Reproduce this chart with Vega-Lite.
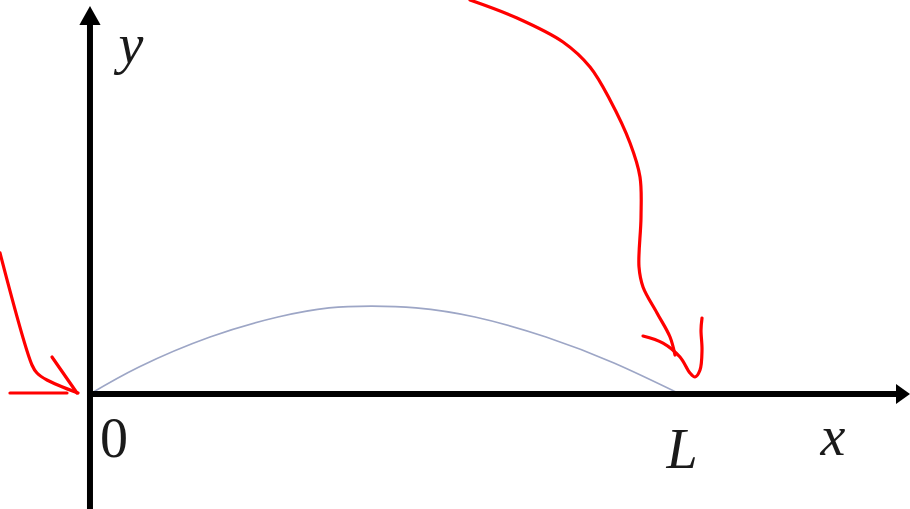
{
  "$schema": "https://vega.github.io/schema/vega-lite/v6.json",
  "width": 910,
  "height": 509,
  "autosize": {"type": "none"},
  "padding": 0,
  "background": "white",
  "config": {"view": {"stroke": null}},
  "datasets": {
    "axes": [
      {"s": "yaxis", "i": 0, "x": 0, "y": -19.49},
      {"s": "yaxis", "i": 1, "x": 0, "y": 63.05},
      {"s": "xaxis", "i": 0, "x": -0.34, "y": 0},
      {"s": "xaxis", "i": 1, "x": 136.95, "y": 0}
    ],
    "yarrow": [
      {"x": -1.8, "y": 62.54, "y2": 62.54},
      {"x": 0, "y": 65.76, "y2": 62.54},
      {"x": 1.8, "y": 62.54, "y2": 62.54}
    ],
    "xarrow": [
      {"y": -1.69, "x": 136.61, "x2": 136.61},
      {"y": 0, "x": 138.98, "x2": 136.61},
      {"y": 1.69, "x": 136.61, "x2": 136.61}
    ],
    "arc": [
      {"i": 0, "x": 0, "y": 0},
      {"i": 1, "x": 8.31, "y": 4.58},
      {"i": 2, "x": 20.34, "y": 9.66},
      {"i": 3, "x": 31.86, "y": 13.05},
      {"i": 4, "x": 40.51, "y": 14.6},
      {"i": 5, "x": 47.8, "y": 14.9},
      {"i": 6, "x": 55.25, "y": 14.6},
      {"i": 7, "x": 65.25, "y": 13.05},
      {"i": 8, "x": 77.29, "y": 9.66},
      {"i": 9, "x": 88.81, "y": 5.25},
      {"i": 10, "x": 100, "y": 0}
    ],
    "red": [
      {"s": "a", "i": 0, "x": -15.25, "y": 23.9},
      {"s": "a", "i": 1, "x": -9.83, "y": 4.92},
      {"s": "a", "i": 2, "x": -8.98, "y": 3.56},
      {"s": "a", "i": 3, "x": -7.29, "y": 2.37},
      {"s": "a", "i": 4, "x": -2.03, "y": 0.17},
      {"s": "b", "i": 0, "x": -6.44, "y": 6.27},
      {"s": "b", "i": 1, "x": -2.2, "y": 0.17},
      {"s": "c", "i": 0, "x": -13.56, "y": 0.17},
      {"s": "c", "i": 1, "x": -3.9, "y": 0.17},
      {"s": "d", "i": 0, "x": 64.41, "y": 66.78},
      {"s": "d", "i": 1, "x": 72.37, "y": 63.73},
      {"s": "d", "i": 2, "x": 80.17, "y": 59.66},
      {"s": "d", "i": 3, "x": 84.75, "y": 55.42},
      {"s": "d", "i": 4, "x": 88.14, "y": 49.83},
      {"s": "d", "i": 5, "x": 91.53, "y": 42.54},
      {"s": "d", "i": 6, "x": 93.22, "y": 36.78},
      {"s": "d", "i": 7, "x": 93.39, "y": 30.0},
      {"s": "d", "i": 8, "x": 93.05, "y": 21.53},
      {"s": "d", "i": 9, "x": 93.73, "y": 18.14},
      {"s": "d", "i": 10, "x": 96.1, "y": 13.73},
      {"s": "d", "i": 11, "x": 98.31, "y": 9.66},
      {"s": "d", "i": 12, "x": 99.15, "y": 6.61},
      {"s": "e", "i": 0, "x": 93.73, "y": 9.83},
      {"s": "e", "i": 1, "x": 97.12, "y": 8.64},
      {"s": "e", "i": 2, "x": 100, "y": 6.27},
      {"s": "e", "i": 3, "x": 101.69, "y": 3.56},
      {"s": "e", "i": 4, "x": 102.54, "y": 2.88},
      {"s": "e", "i": 5, "x": 103.39, "y": 4.07},
      {"s": "e", "i": 6, "x": 103.73, "y": 7.46},
      {"s": "e", "i": 7, "x": 103.56, "y": 10.85},
      {"s": "e", "i": 8, "x": 103.73, "y": 12.88}
    ],
    "labels": [
      {"t": "L", "x": 100.34, "y": -12.54},
      {"t": "x", "x": 125.93, "y": -10.34},
      {"t": "y", "x": 6.95, "y": 56.1}
    ],
    "zero": [
      {"t": "0", "x": 4.07, "y": -10.68}
    ]
  },
  "encoding": {
    "x": {"type": "quantitative", "scale": {"domain": [-15.25, 138.98], "nice": false, "zero": false}, "axis": null},
    "y": {"type": "quantitative", "scale": {"domain": [-19.49, 66.78], "nice": false, "zero": false}, "axis": null}
  },
  "layer": [
    {
      "data": {"name": "arc"},
      "mark": {"type": "line", "interpolate": "natural", "color": "#9da6c6", "strokeWidth": 1.6},
      "encoding": {
        "x": {"field": "x", "type": "quantitative"},
        "y": {"field": "y", "type": "quantitative"},
        "order": {"field": "i", "type": "quantitative"}
      }
    },
    {
      "data": {"name": "axes"},
      "mark": {"type": "line", "color": "black", "strokeWidth": 6, "strokeCap": "butt"},
      "encoding": {
        "x": {"field": "x", "type": "quantitative"},
        "y": {"field": "y", "type": "quantitative"},
        "detail": {"field": "s"},
        "order": {"field": "i", "type": "quantitative"}
      }
    },
    {
      "data": {"name": "yarrow"},
      "mark": {"type": "area", "orient": "vertical", "color": "black"},
      "encoding": {
        "x": {"field": "x", "type": "quantitative"},
        "y": {"field": "y", "type": "quantitative"},
        "y2": {"field": "y2"}
      }
    },
    {
      "data": {"name": "xarrow"},
      "mark": {"type": "area", "orient": "horizontal", "color": "black"},
      "encoding": {
        "x": {"field": "x", "type": "quantitative"},
        "x2": {"field": "x2"},
        "y": {"field": "y", "type": "quantitative"}
      }
    },
    {
      "data": {"name": "red"},
      "mark": {"type": "line", "interpolate": "catmull-rom", "color": "#ff0000", "strokeWidth": 3.2, "strokeCap": "round", "strokeJoin": "round"},
      "encoding": {
        "x": {"field": "x", "type": "quantitative"},
        "y": {"field": "y", "type": "quantitative"},
        "detail": {"field": "s"},
        "order": {"field": "i", "type": "quantitative"}
      }
    },
    {
      "data": {"name": "labels"},
      "mark": {"type": "text", "font": "Liberation Serif", "fontStyle": "italic", "fontSize": 56, "align": "center", "baseline": "alphabetic", "color": "#1a1a1a"},
      "encoding": {
        "x": {"field": "x", "type": "quantitative"},
        "y": {"field": "y", "type": "quantitative"},
        "text": {"field": "t"}
      }
    },
    {
      "data": {"name": "zero"},
      "mark": {"type": "text", "font": "Liberation Serif", "fontSize": 56, "align": "center", "baseline": "alphabetic", "color": "#1a1a1a"},
      "encoding": {
        "x": {"field": "x", "type": "quantitative"},
        "y": {"field": "y", "type": "quantitative"},
        "text": {"field": "t"}
      }
    }
  ]
}
